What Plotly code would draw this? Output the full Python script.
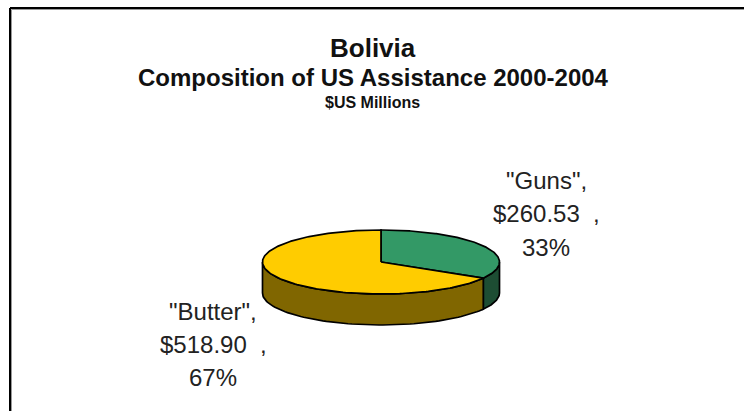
import numpy as np
import plotly.graph_objects as go

# ---- data ----
categories = ['"Butter"', '"Guns"']
values = [518.90, 260.53]
title_lines = ["Bolivia", "Composition of US Assistance 2000-2004", "$US Millions"]

# ---- style ----
top_colors = {'"Guns"': "#339966", '"Butter"': "#FFCC00"}
side_colors = {'"Guns"': "#1D4D33", '"Butter"': "#806600"}
W, H = 744, 411
cx, cy, a, b, depth = 381, 262, 118.5, 32, 31
FONT = "Liberation Sans, Arial, sans-serif"

fig = go.Figure()

def ell(theta_deg, dy=0.0):
    t = np.radians(theta_deg)
    return cx + a * np.sin(t), cy - b * np.cos(t) + dy

total = sum(values)
order = ['"Guns"', '"Butter"']
vals = dict(zip(categories, values))
spans = {}
start = 0.0
for name in order:
    sweep = vals[name] / total * 360.0
    spans[name] = (start, start + sweep)
    start += sweep

# side walls (front half: 90..270 deg)
for name in order:
    s0, s1 = spans[name]
    lo, hi = max(s0, 90.0), min(s1, 270.0)
    if hi <= lo:
        continue
    th = np.linspace(lo, hi, 80)
    xt, yt = ell(th)
    xb, yb = ell(th[::-1], depth)
    xs = np.concatenate([xt, xb, xt[:1]])
    ys = np.concatenate([yt, yb, yt[:1]])
    fig.add_trace(go.Scatter(x=xs, y=ys, mode="lines", fill="toself",
                             fillcolor=side_colors[name],
                             line=dict(color="black", width=1.7),
                             hoverinfo="skip", showlegend=False))

# top faces
for name in order:
    s0, s1 = spans[name]
    th = np.linspace(s0, s1, 200)
    xt, yt = ell(th)
    xs = np.concatenate([[cx], xt, [cx]])
    ys = np.concatenate([[cy], yt, [cy]])
    fig.add_trace(go.Scatter(x=xs, y=ys, mode="lines", fill="toself",
                             fillcolor=top_colors[name],
                             line=dict(color="black", width=1.7),
                             hoverinfo="skip", showlegend=False))

annotations = []
# titles
title_pos = [(373, 48, 26), (373, 77, 24), (372, 102, 16)]
for txt, (x, y, s) in zip(title_lines, title_pos):
    annotations.append(dict(x=x, y=y, xref="x", yref="y", text="<b>%s</b>" % txt,
                            showarrow=False, xanchor="center", yanchor="middle",
                            font=dict(family=FONT, size=s, color="#111111")))

# data labels
label_pos = {'"Guns"': (546, [180, 213, 247]), '"Butter"': (213, [311, 344, 377])}
for name in order:
    v = vals[name]
    pct = round(v / total * 100)
    lines = [name + ",", "$%.2f\u00a0\u00a0," % v, "%d%%" % pct]
    lx, ly = label_pos[name]
    for t, y in zip(lines, ly):
        annotations.append(dict(x=lx, y=y, xref="x", yref="y", text=t, showarrow=False,
                                xanchor="center", yanchor="middle",
                                font=dict(family=FONT, size=24, color="#222222")))

shapes = [
    dict(type="line", xref="x", yref="y", x0=10, x1=W, y0=8, y1=8, line=dict(color="black", width=2)),
    dict(type="line", xref="x", yref="y", x0=10, x1=10, y0=8, y1=H, line=dict(color="black", width=2)),
    dict(type="line", xref="x", yref="y", x0=11.5, x1=W, y0=9.5, y1=9.5, line=dict(color="#999999", width=1)),
    dict(type="line", xref="x", yref="y", x0=11.5, x1=11.5, y0=9.5, y1=H, line=dict(color="#999999", width=1)),
]

fig.update_layout(
    width=W, height=H, margin=dict(l=0, r=0, t=0, b=0),
    paper_bgcolor="white", plot_bgcolor="white",
    xaxis=dict(range=[0, W], visible=False, fixedrange=True),
    yaxis=dict(range=[H, 0], visible=False, fixedrange=True),
    annotations=annotations, shapes=shapes, showlegend=False,
)

fig.write_html("out.html", config={"displayModeBar": False, "staticPlot": True},
               post_script="document.body.style.margin='0';document.body.style.overflow='hidden';")
